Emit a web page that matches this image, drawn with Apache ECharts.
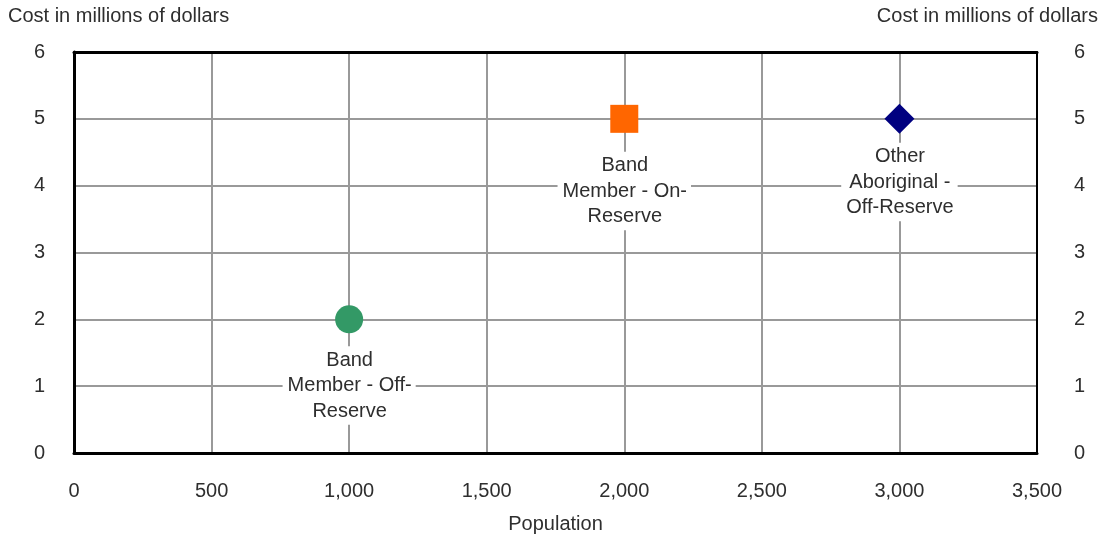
<!DOCTYPE html>
<html><head><meta charset="utf-8">
<script src="https://cdn.jsdelivr.net/npm/echarts@6/dist/echarts.min.js"></script>
<style>html,body{margin:0;padding:0;background:#fff}#c{width:1106px;height:540px}</style>
</head><body><div id="c"></div>
<script>
var seriesNames = ['Band\nMember - Off-\nReserve', 'Band\nMember - On-\nReserve', 'Other\nAboriginal -\nOff-Reserve'];
var populations = [1000, 2000, 3000];
var costs = [2, 5, 5];
var colors = ['#339966', '#FF6600', '#000080'];
var symbols = ['circle', 'rect', 'diamond'];
var xTicks = [0, 500, 1000, 1500, 2000, 2500, 3000, 3500];
var yTicks = [0, 1, 2, 3, 4, 5, 6];
var xTitle = 'Population';
var yTitle = 'Cost in millions of dollars';

var FONT = "'Liberation Sans', Arial, sans-serif";
var FS = 20;
var TXT = '#2e2e2e';
var symbolSizes = [28, 28, 30];
var labelDist = [13, 19, 9];
var chart = echarts.init(document.getElementById('c'));
var series = seriesNames.map(function (n, i) {
  return {
    type: 'scatter', name: n, z: 5,
    data: [[populations[i], costs[i]]],
    symbol: symbols[i], symbolSize: symbolSizes[i],
    itemStyle: {color: colors[i], opacity: 1},
    emphasis: {disabled: true},
    label: {
      show: true, position: 'bottom', distance: labelDist[i],
      formatter: n, color: TXT, fontFamily: FONT, fontSize: FS,
      lineHeight: 25.5, backgroundColor: '#fff', padding: [1, 4, 1, 5], align: 'center'
    }
  };
});
var yLabel = {color: TXT, fontFamily: FONT, fontSize: FS};
chart.setOption({
  animation: false,
  grid: {left: 74, right: 69, top: 52, bottom: 87, show: false,
    outerBoundsMode: 'none', containLabel: false},
  xAxis: [{
    type: 'value', min: xTicks[0], max: xTicks[xTicks.length - 1], interval: xTicks[1] - xTicks[0],
    name: xTitle, nameLocation: 'middle', nameGap: 61,
    nameTextStyle: {color: TXT, fontFamily: FONT, fontSize: FS},
    axisTick: {show: false},
    axisLine: {show: true, onZero: false, lineStyle: {color: '#000', width: 3}},
    splitLine: {show: true, lineStyle: {color: '#999', width: 2}},
    axisLabel: {color: TXT, fontFamily: FONT, fontSize: FS, margin: 28,
      formatter: function (v) { return v.toLocaleString('en-US'); }}
  }, {
    type: 'value', min: xTicks[0], max: xTicks[xTicks.length - 1], interval: xTicks[1] - xTicks[0], position: 'top',
    axisTick: {show: false}, axisLabel: {show: false}, splitLine: {show: false},
    axisLine: {show: true, onZero: false, lineStyle: {color: '#000', width: 3}}, z: 3
  }],
  yAxis: [{
    type: 'value', min: yTicks[0], max: yTicks[yTicks.length - 1], interval: 1, position: 'left',
    axisTick: {show: false},
    axisLine: {show: true, onZero: false, lineStyle: {color: '#000', width: 3}},
    splitLine: {show: true, lineStyle: {color: '#999', width: 2}},
    axisLabel: Object.assign({}, yLabel, {margin: 29})
  }, {
    type: 'value', min: yTicks[0], max: yTicks[yTicks.length - 1], interval: 1, position: 'right',
    axisTick: {show: false}, splitLine: {show: false},
    axisLine: {show: true, onZero: false, lineStyle: {color: '#000', width: 2}}, z: 3,
    axisLabel: Object.assign({}, yLabel, {margin: 37, align: 'left'})
  }],
  graphic: [
    {type: 'text', left: 8, top: 6, style: {text: yTitle, fill: TXT, font: FS + 'px ' + FONT}},
    {type: 'text', right: 8, top: 6, style: {text: yTitle, fill: TXT, font: FS + 'px ' + FONT}}
  ],
  series: series
});
</script></body></html>
